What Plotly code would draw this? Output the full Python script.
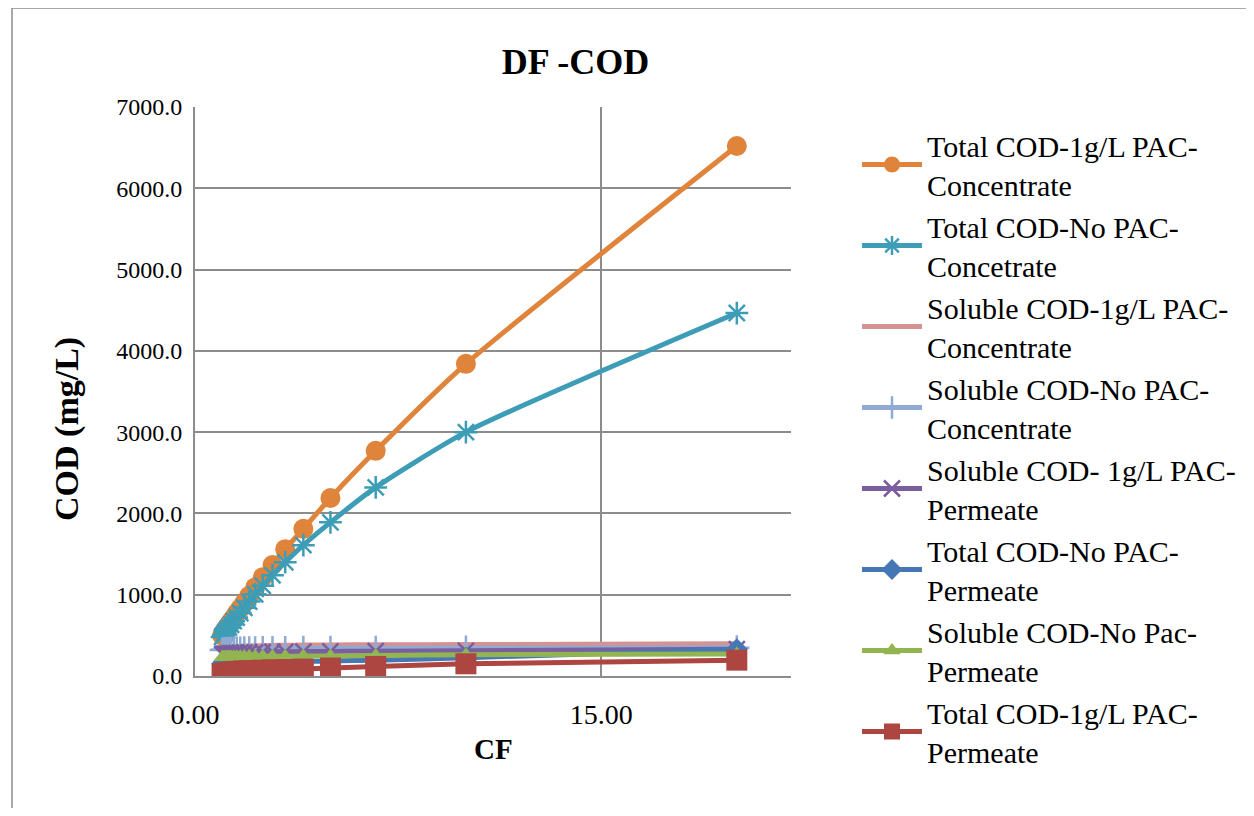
import plotly.graph_objects as go

# ---- data ----
cf = [1.00, 1.05, 1.11, 1.18, 1.25, 1.33, 1.43, 1.54, 1.67, 1.82,
      2.00, 2.22, 2.50, 2.86, 3.33, 4.00, 5.00, 6.67, 10.00, 20.00]

total_pac_conc = [500, 530, 560, 595, 630, 670, 715, 770, 830, 900,
                  985, 1090, 1215, 1365, 1560, 1810, 2190, 2770, 3840, 6520]
total_nopac_conc = [480, 505, 535, 565, 595, 630, 675, 720, 775, 840,
                    915, 1005, 1110, 1240, 1400, 1610, 1890, 2320, 3000, 4465]
sol_pac_conc = [350, 352, 354, 356, 358, 360, 362, 364, 366, 368,
                370, 372, 374, 376, 378, 380, 382, 384, 386, 396]
sol_nopac_conc = [320, 322, 324, 326, 328, 329, 330, 331, 332, 333,
                  334, 335, 336, 337, 338, 339, 340, 341, 342, 347]
sol_pac_perm = [270, 272, 274, 276, 278, 280, 282, 284, 286, 288,
                290, 292, 294, 296, 298, 300, 302, 305, 310, 330]
total_nopac_perm = [150, 152, 154, 156, 158, 160, 162, 164, 166, 168,
                    170, 172, 174, 176, 178, 180, 185, 195, 225, 330]
sol_nopac_perm = [230, 231, 232, 233, 234, 235, 236, 237, 238, 239,
                  240, 241, 242, 243, 244, 245, 247, 252, 262, 270]
total_pac_perm = [20, 25, 30, 35, 40, 45, 50, 55, 58, 62,
                  65, 68, 72, 76, 80, 85, 98, 117, 150, 195]

names = [
    "Total COD-1g/L PAC-<br>Concentrate",
    "Total COD-No PAC-<br>Concetrate",
    "Soluble COD-1g/L PAC-<br>Concentrate",
    "Soluble COD-No PAC-<br>Concentrate",
    "Soluble COD- 1g/L PAC-<br>Permeate",
    "Total COD-No PAC-<br>Permeate",
    "Soluble COD-No Pac-<br>Permeate",
    "Total COD-1g/L PAC-<br>Permeate",
]
series = [total_pac_conc, total_nopac_conc, sol_pac_conc, sol_nopac_conc,
          sol_pac_perm, total_nopac_perm, sol_nopac_perm, total_pac_perm]

# ---- styles ----
colors = ["#E0843C", "#3E9DB6", "#D49292", "#8FAAD3",
          "#7A5E9E", "#4677B5", "#92B552", "#AD4541"]
symbols = ["circle", "asterisk-open", None, "cross-thin-open",
           "x-thin-open", "diamond", "triangle-up", "square"]
msizes = [20, 19, 0, 18, 16, 17, 15, 21]

FONT = "Liberation Serif, Times New Roman, serif"

fig = go.Figure()
for name, ys, col, sym, ms in zip(names, series, colors, symbols, msizes):
    if sym is None:
        mode = "lines"
        marker = None
    else:
        mode = "lines+markers"
        if sym.endswith("-open"):
            marker = dict(symbol=sym, size=ms, color=col, line=dict(color=col, width=2.5))
        else:
            marker = dict(symbol=sym, size=ms, color=col, line=dict(width=0))
    fig.add_trace(go.Scatter(
        x=cf, y=ys, name=name, mode=mode,
        line=dict(color=col, width=5, shape="spline", smoothing=0.6),
        marker=marker,
    ))

# page body has an 8px margin; work in screen coords minus 8
OFF = 8
W, H = 1238, 800
L = 195 - OFF
T = 107 - OFF
R = W - (791 - OFF)
B = H - (676 - OFF)
pw, ph = W - L - R, H - T - B


def px2x(sx):
    return (sx - OFF - L) / pw


def px2y(sy):
    return (H - B - (sy - OFF)) / ph


fig.update_layout(
    width=W, height=H,
    margin=dict(l=L, r=R, t=T, b=B, autoexpand=False),
    paper_bgcolor="white", plot_bgcolor="white",
    font=dict(family=FONT, size=28, color="black"),
    title=dict(text="<b>DF -COD</b>", x=(575.5 - OFF) / W, xanchor="center",
               y=1 - (61 - OFF) / H, yanchor="middle",
               font=dict(family=FONT, size=36, color="black")),
    showlegend=True,
    legend=dict(x=px2x(857), xanchor="left", y=px2y(119), yanchor="top",
                font=dict(family=FONT, size=30, color="black"),
                bgcolor="rgba(0,0,0,0)", itemwidth=60, tracegroupgap=0,
                traceorder="normal", maxheight=760),
    xaxis=dict(range=[0, 22], dtick=15, tick0=0, tickformat=".2f",
               showgrid=True, gridcolor="#8C8C8C", gridwidth=2,
               showline=True, linecolor="#8C8C8C", linewidth=2,
               zeroline=False, ticks="", ticklabelstandoff=12,
               tickfont=dict(family=FONT, size=28, color="black")),
    yaxis=dict(range=[0, 7000], dtick=1000, tick0=0, tickformat=".1f",
               showgrid=True, gridcolor="#8C8C8C", gridwidth=2,
               showline=True, linecolor="#8C8C8C", linewidth=2,
               zeroline=False, ticks="", ticklabelstandoff=6,
               tickfont=dict(family=FONT, size=24, color="black")),
    annotations=[
        dict(text="<b>CF</b>", xref="paper", yref="paper",
             x=px2x(493), y=px2y(749), xanchor="center", yanchor="middle",
             showarrow=False, font=dict(family=FONT, size=29, color="black")),
        dict(text="<b>COD (mg/L)</b>", xref="paper", yref="paper",
             x=px2x(67), y=px2y(429), xanchor="center", yanchor="middle",
             textangle=-90, showarrow=False,
             font=dict(family=FONT, size=34, color="black")),
    ],
    shapes=[
        dict(type="rect", xref="paper", yref="paper",
             x0=px2x(12), x1=px2x(1300), y0=px2y(860), y1=px2y(8),
             line=dict(color="#8C8C8C", width=1.5), fillcolor="rgba(0,0,0,0)",
             layer="below"),
    ],
)

fig.write_html("out.html")
